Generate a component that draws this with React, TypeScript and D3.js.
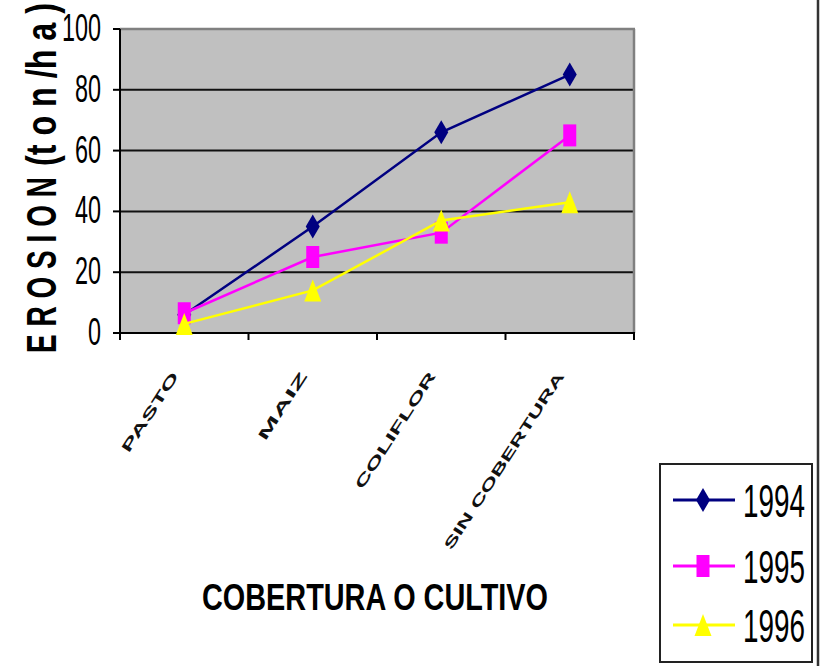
import React from "react";
import * as d3 from "d3";

const categories = ["PASTO", "MAIZ", "COLIFLOR", "SIN COBERTURA"];
const years = ["1994", "1995", "1996"];
const values1994 = [6, 35, 66, 85];
const values1995 = [6.5, 25, 33, 65];
const values1996 = [3, 14, 37, 43];
const yTicks = [0, 20, 40, 60, 80, 100];

const seriesList = [
  { name: years[0], values: values1994, color: "#000080", marker: "diamond" },
  { name: years[1], values: values1995, color: "#FF00FF", marker: "square" },
  { name: years[2], values: values1996, color: "#FFFF00", marker: "triangle" },
];

const W = 821, H = 666;
const L = 120, R = 634, T = 29, B = 333;

function markerPath(kind: string) {
  if (kind === "diamond") return "M0,-12 L7,0 L0,12 L-7,0 Z";
  if (kind === "square") return "M-6.5,-11 L6.5,-11 L6.5,11 L-6.5,11 Z";
  return "M0,-11 L8.5,11 L-8.5,11 Z";
}

export default function App() {
  const x = d3.scaleBand<string>().domain(categories).range([L, R]).padding(0);
  const y = d3.scaleLinear().domain([0, 100]).range([B, T]);
  const line = d3
    .line<number>()
    .x((_, i) => (x(categories[i]) as number) + x.bandwidth() / 2)
    .y((d) => y(d));
  const bounds = categories.map((c) => x(c) as number).concat([R]);

  return (
    <svg
      width={W}
      height={H}
      style={{ position: "absolute", left: 0, top: 0, background: "#fff" }}
      fontFamily="'Liberation Sans', Arial, sans-serif"
    >
      <rect x={L} y={T} width={R - L} height={B - T} fill="#C0C0C0" />
      {yTicks.filter((t) => t > 0 && t < 100).map((t) => (
        <line key={t} x1={L} x2={R} y1={y(t)} y2={y(t)} stroke="#111" strokeWidth={2} />
      ))}
      <line x1={L} x2={R + 1} y1={T} y2={T} stroke="#808080" strokeWidth={2.5} />
      <line x1={R} x2={R} y1={T} y2={B} stroke="#808080" strokeWidth={2.5} />
      <line x1={L} x2={L} y1={T} y2={B} stroke="#000" strokeWidth={2} />
      <line x1={L - 7} x2={R + 1} y1={B} y2={B} stroke="#000" strokeWidth={2} />
      {yTicks.map((t) => (
        <g key={t}>
          <line x1={L - 7} x2={L} y1={y(t)} y2={y(t)} stroke="#000" strokeWidth={2} />
          <text
            transform={`translate(101,${y(t) + 12}) scale(0.6,1)`}
            textAnchor="end"
            fontSize={39}
            fill="#000"
          >
            {t}
          </text>
        </g>
      ))}
      {bounds.map((b, i) => (
        <line key={i} x1={b} x2={b} y1={B} y2={B + 7} stroke="#000" strokeWidth={2} />
      ))}
      {categories.map((c) => {
        const cx = (x(c) as number) + x.bandwidth() / 2;
        return (
          <text
            key={c}
            transform={`translate(${cx - 5},${376}) rotate(-57)`}
            textAnchor="end"
            fontSize={14}
            fontWeight="bold"
            textLength={c.length * 14.5 + 20}
            lengthAdjust="spacingAndGlyphs"
            fill="#111"
          >
            {c}
          </text>
        );
      })}
      {seriesList.map((s) => (
        <g key={s.name}>
          <path d={line(s.values) || ""} fill="none" stroke={s.color} strokeWidth={2.5} />
          {s.values.map((v, i) => (
            <path
              key={i}
              d={markerPath(s.marker)}
              transform={`translate(${(x(categories[i]) as number) + x.bandwidth() / 2},${y(v)})`}
              fill={s.color}
            />
          ))}
        </g>
      ))}
      {/* y title */}
      <text
        transform="translate(56,353) rotate(-90)"
        fontSize={43}
        fontWeight="bold"
        textLength={176}
        lengthAdjust="spacingAndGlyphs"
        fill="#000"
      >
        {"E R O S I O N"}
      </text>
      <text
        transform="translate(56,166) rotate(-90)"
        fontSize={43}
        fontWeight="bold"
        textLength={163}
        lengthAdjust="spacingAndGlyphs"
        fill="#000"
      >
        {"(t o n /h a )"}
      </text>
      {/* x title */}
      <text
        x={202}
        y={610}
        fontSize={37}
        fontWeight="bold"
        textLength={346}
        lengthAdjust="spacingAndGlyphs"
        fill="#000"
      >
        COBERTURA O CULTIVO
      </text>
      {/* legend */}
      <rect x={660} y={464} width={152} height={198} fill="#fff" stroke="#222" strokeWidth={2} />
      {seriesList.map((s, i) => {
        const ly = [500, 566, 625][i];
        return (
          <g key={s.name}>
            <line x1={673} x2={735} y1={ly} y2={ly} stroke={s.color} strokeWidth={3} />
            <path d={markerPath(s.marker)} transform={`translate(703,${ly})`} fill={s.color} />
            <text
              x={743}
              y={ly + 17}
              fontSize={46}
              textLength={62}
              lengthAdjust="spacingAndGlyphs"
              fill="#000"
            >
              {s.name}
            </text>
          </g>
        );
      })}
      <line x1={818} x2={818} y1={0} y2={H} stroke="#333" strokeWidth={2.5} />
    </svg>
  );
}
